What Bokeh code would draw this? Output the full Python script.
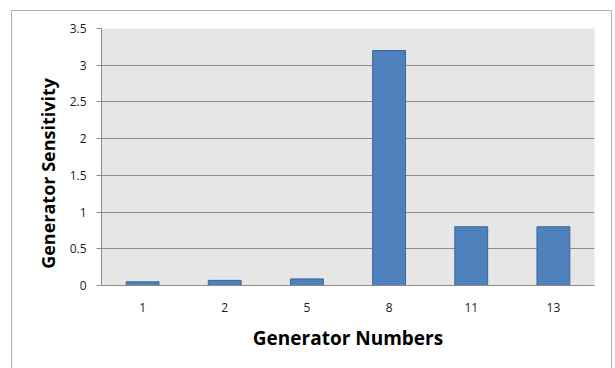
from bokeh.plotting import figure
from bokeh.models import FixedTicker, FactorRange, Range1d, ColumnDataSource
from bokeh.embed import file_html
from bokeh.resources import INLINE

generators = ["1", "2", "5", "8", "11", "13"]
sensitivity = [0.05, 0.07, 0.09, 3.2, 0.8, 0.8]
y_ticks = [0, 0.5, 1, 1.5, 2, 2.5, 3, 3.5]
y_tick_labels = ["0", "0.5", "1", "1.5", "2", "2.5", "3", "3.5"]

src = ColumnDataSource(dict(x=generators, y=sensitivity))

p = figure(width=599, height=357, x_range=FactorRange(*generators, range_padding=0),
           y_range=Range1d(0, 3.5), output_backend="svg", toolbar_location=None,
           min_border_left=89, min_border_right=17, min_border_top=17, min_border_bottom=83)
p.margin = (11, 0, 0, 12)
p.styles = {"outline": "1px solid #b0b0b0"}

p.vbar(x="x", top="y", width=0.4, source=src, fill_color="#4f81bd",
       line_color="#3a679d", line_width=1)

p.background_fill_color = "#e6e6e6"
p.border_fill_color = "white"
p.outline_line_color = None

p.ygrid.ticker = FixedTicker(ticks=y_ticks)
p.ygrid.grid_line_color = "#8c8c8c"
p.ygrid.grid_line_width = 1
p.xgrid.grid_line_color = None

ya = p.yaxis[0]
ya.ticker = FixedTicker(ticks=y_ticks)
ya.major_label_overrides = {t: l for t, l in zip(y_ticks, y_tick_labels)}
ya.axis_label = "Generator Sensitivity" + "\u00a0" * 7
ya.axis_label_text_font = "Open Sans"
ya.axis_label_text_font_style = "bold"
ya.axis_label_text_font_size = "18px"
ya.axis_label_text_color = "black"
ya.axis_label_standoff = 7
ya.major_label_text_font = "Open Sans"
ya.major_label_text_font_size = "12px"
ya.major_label_text_color = "#1a1a1a"
ya.major_label_standoff = 10
ya.major_tick_out = 5
ya.major_tick_in = 0
ya.minor_tick_line_color = None
ya.axis_line_color = "#8c8c8c"
ya.major_tick_line_color = "#8c8c8c"

xa = p.xaxis[0]
xa.axis_label = "Generator Numbers"
xa.axis_label_text_font = "Open Sans"
xa.axis_label_text_font_style = "bold"
xa.axis_label_text_font_size = "19px"
xa.axis_label_text_color = "black"
xa.axis_label_standoff = 10
xa.major_label_text_font = "Open Sans"
xa.major_label_text_font_size = "12px"
xa.major_label_text_color = "#1a1a1a"
xa.major_label_standoff = 11
xa.major_tick_line_color = None
xa.axis_line_color = "#8c8c8c"

open("out.html", "w").write(file_html(p, INLINE))
